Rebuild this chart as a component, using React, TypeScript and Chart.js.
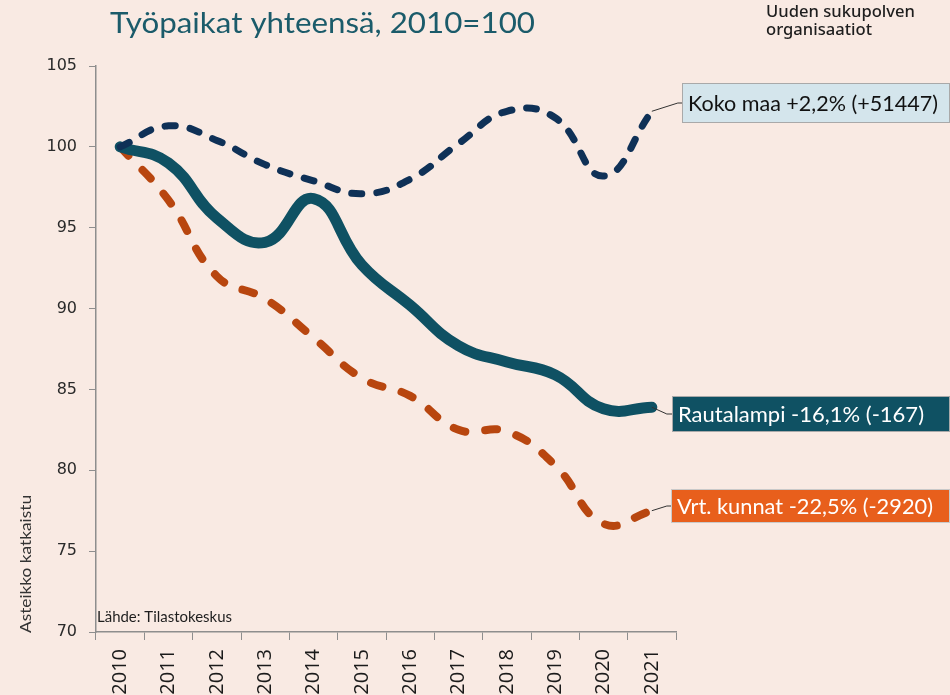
import { useEffect, useRef } from 'react';
import { Chart, registerables } from 'chart.js';

Chart.register(...registerables);

const years = ['2010', '2011', '2012', '2013', '2014', '2015', '2016', '2017', '2018', '2019', '2020', '2021'];
const kokoMaa = [100, 101.3, 100.4, 98.9, 97.9, 97.1, 98.0, 100.2, 102.2, 101.8, 98.2, 102.2];
const rautalampi = [100, 99.0, 95.6, 94.1, 96.8, 92.7, 90.2, 87.7, 86.7, 85.9, 83.8, 83.9];
const vrtKunnat = [100, 96.7, 92.0, 90.6, 88.2, 85.7, 84.6, 82.5, 82.4, 80.3, 76.7, 77.5];

const yTicks = [70, 75, 80, 85, 90, 95, 100, 105];

const titleText = 'Työpaikat yhteensä, 2010=100';
const cornerLines = ['Uuden sukupolven', 'organisaatiot'];
const axisNote = 'Asteikko katkaistu';
const sourceText = 'Lähde: Tilastokeskus';
const calloutTexts = ['Koko maa +2,2% (+51447)', 'Rautalampi -16,1% (-167)', 'Vrt. kunnat -22,5% (-2920)'];

const BG = '#f9eae3';
const NAVY = '#0f3157';
const TEAL = '#0f5163';
const ORANGE_LINE = '#b8460f';
const ORANGE_BOX = '#e85f1c';
const AXIS = '#8e8e8e';

// draw text at a given font size, horizontally scaled by k (or fitted to width when k is null)
function drawFitted(
  ctx: CanvasRenderingContext2D,
  text: string,
  x: number,
  y: number,
  width: number | null,
  size: number,
  family: string,
  weight: string,
  kIn?: number
) {
  ctx.font = `${weight} ${size}px ${family}`;
  const w = ctx.measureText(text).width;
  const k = kIn !== undefined ? kIn : (width as number) / w;
  ctx.save();
  ctx.translate(x, y);
  ctx.scale(k, 1);
  ctx.fillText(text, 0, 0);
  ctx.restore();
  return k;
}

const textPlugin = {
  id: 'texts',
  beforeDraw(chart: any) {
    const ctx = chart.ctx as CanvasRenderingContext2D;
    ctx.save();
    ctx.fillStyle = BG;
    ctx.fillRect(0, 0, chart.width, chart.height);
    ctx.restore();
  },
  afterDraw(chart: any) {
    const ctx = chart.ctx as CanvasRenderingContext2D;
    ctx.save();
    ctx.textBaseline = 'alphabetic';
    ctx.textAlign = 'left';

    // title
    ctx.fillStyle = '#1b5b6a';
    drawFitted(ctx, titleText, 110, 33, 425, 29, 'Lato', '400');

    // corner text
    ctx.fillStyle = '#1e1e1e';
    const k = drawFitted(ctx, cornerLines[0], 766, 17, 149, 17, '"Noto Sans"', '500');
    drawFitted(ctx, cornerLines[1], 766, 35, null, 17, '"Noto Sans"', '500', k);

    // source
    ctx.fillStyle = '#1e1e1e';
    ctx.textBaseline = 'middle';
    drawFitted(ctx, sourceText, 97, 617, 135, 16, 'Lato', '400');

    // axis note
    ctx.save();
    ctx.translate(26, 633);
    ctx.rotate(-Math.PI / 2);
    ctx.fillStyle = '#333';
    ctx.textBaseline = 'middle';
    drawFitted(ctx, axisNote, 0, 0, 138, 16, 'Lato', '400');
    ctx.restore();

    // callouts
    const boxes = [
      { ds: 0, x: 682, y: 83, h: 40, fill: '#d4e5ec', stroke: '#a9a9a9', color: '#111', tw: 250, dx: 26 },
      { ds: 1, x: 672, y: 396, h: 36, fill: TEAL, stroke: '#a9a9a9', color: '#fff', tw: 246, dx: 15 },
      { ds: 2, x: 671, y: 489, h: 34, fill: ORANGE_BOX, stroke: '#c9c9c9', color: '#fff', tw: 256, dx: 15 },
    ];
    boxes.forEach((b, i) => {
      const meta = chart.getDatasetMeta(b.ds);
      const pt = meta.data[meta.data.length - 1];
      const cy = b.y + b.h / 2;
      ctx.strokeStyle = '#333';
      ctx.lineWidth = 1;
      ctx.beginPath();
      ctx.moveTo(pt.x, pt.y);
      ctx.lineTo(pt.x + b.dx, cy);
      ctx.lineTo(b.x, cy);
      ctx.stroke();
      ctx.fillStyle = b.fill;
      ctx.fillRect(b.x, b.y, 950 - b.x, b.h);
      ctx.strokeStyle = b.stroke;
      ctx.strokeRect(b.x + 0.5, b.y + 0.5, 950 - b.x - 1, b.h - 1);
      ctx.fillStyle = b.color;
      ctx.textBaseline = 'middle';
      ctx.textAlign = 'left';
      drawFitted(ctx, calloutTexts[i], b.x + 6, cy + 1, b.tw, 22, 'Lato', '400');
    });
    ctx.restore();
  },
};

export default function App() {
  const ref = useRef<HTMLCanvasElement>(null);
  useEffect(() => {
    if (!ref.current) return;
    const chart = new Chart(ref.current, {
      type: 'line',
      data: {
        labels: years,
        datasets: [
          {
            label: 'Koko maa',
            data: kokoMaa,
            borderColor: NAVY,
            borderWidth: 7,
            borderDash: [10, 15],
            borderCapStyle: 'round',
            tension: 0.45,
            pointRadius: 0,
            fill: false,
          },
          {
            label: 'Rautalampi',
            data: rautalampi,
            borderColor: TEAL,
            borderWidth: 11,
            borderCapStyle: 'round',
            borderJoinStyle: 'round',
            tension: 0.45,
            pointRadius: 0,
            fill: false,
          },
          {
            label: 'Vrt. kunnat',
            data: vrtKunnat,
            borderColor: ORANGE_LINE,
            borderWidth: 8,
            borderDash: [12, 20],
            borderCapStyle: 'round',
            tension: 0.45,
            pointRadius: 0,
            fill: false,
          },
        ],
      },
      options: {
        responsive: false,
        animation: false,
        devicePixelRatio: 1,
        layout: { padding: { top: 66, right: 274, left: 0, bottom: 0 } },
        plugins: { legend: { display: false }, tooltip: { enabled: false }, title: { display: false } },
        elements: { point: { radius: 0 } },
        scales: {
          x: {
            type: 'category',
            offset: true,
            grid: { offset: true, drawOnChartArea: false, drawTicks: true, tickLength: 8, color: AXIS, lineWidth: 1 },
            border: { color: AXIS, width: 1.5 },
            ticks: {
              minRotation: 90,
              maxRotation: 90,
              padding: 9,
              autoSkip: false,
              color: '#1a1a1a',
              font: { family: '"Open Sans"', size: 20 },
            },
            afterFit: (s: any) => {
              s.height = 63;
            },
          },
          y: {
            min: 70,
            max: 105,
            afterBuildTicks: (s: any) => {
              s.ticks = yTicks.map((v) => ({ value: v }));
            },
            ticks: {
              padding: 12,
              color: '#2a2a2a',
              font: { family: '"DejaVu Sans"', size: 16 },
            },
            grid: { drawOnChartArea: false, drawTicks: true, tickLength: 7, color: AXIS, lineWidth: 1 },
            border: { color: AXIS, width: 1.5 },
            afterFit: (s: any) => {
              s.width = 96;
            },
          },
        },
      },
      plugins: [textPlugin],
    } as any);
    return () => chart.destroy();
  }, []);
  return (
    <div style={{ position: 'fixed', left: 0, top: 0, width: 950, height: 695, background: BG, overflow: 'hidden' }}>
      <canvas ref={ref} width={950} height={695} style={{ display: 'block', width: 950, height: 695 }} />
    </div>
  );
}
